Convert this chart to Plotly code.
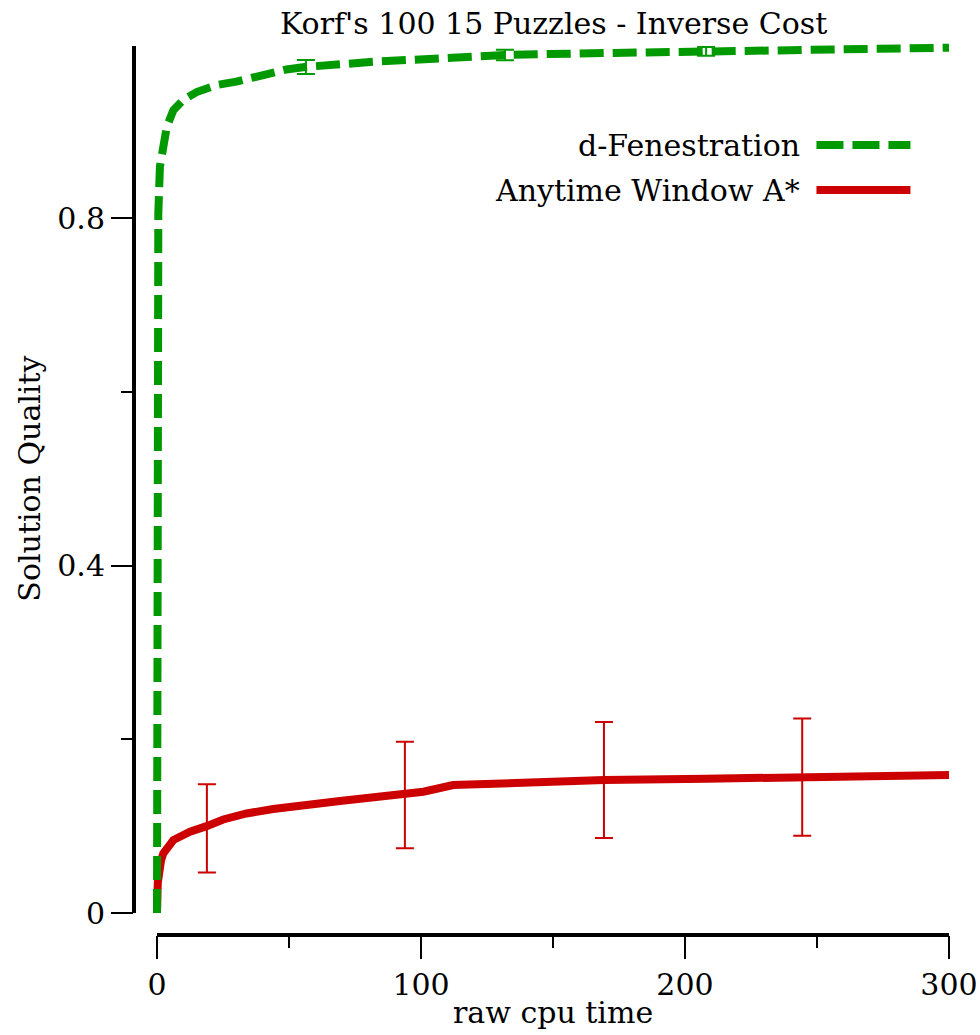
import plotly.graph_objects as go

# d-Fenestration: mean solution quality over raw cpu time
fen_time = [0, 0.2, 0.5, 1.1, 2.4, 3.7, 6.2, 10, 15, 22.6, 30, 40, 49, 56.7, 83,
            122, 135, 173, 208, 248.6, 300]
fen_quality = [0, 0.76, 0.805, 0.859, 0.882, 0.905, 0.924, 0.936, 0.945, 0.953,
               0.957, 0.964, 0.971, 0.974, 0.980, 0.986, 0.988, 0.990, 0.992,
               0.994, 0.996]
fen_err_time = [56.4, 131.8, 208]
fen_err_mid = [0.9738, 0.9876, 0.9917]
fen_err = [0.008, 0.006, 0.005]

# Anytime Window A*
awa_time = [0, 0.3, 1.5, 2.4, 6.2, 12.5, 18.8, 25.1, 33.9, 44, 69.3, 93.9, 100.9,
            112.2, 122.3, 169.3, 208, 244.4, 300]
awa_quality = [0, 0.035, 0.06, 0.0686, 0.084, 0.0936, 0.100, 0.1077, 0.1146,
               0.1197, 0.1289, 0.1377, 0.1396, 0.1473, 0.1485, 0.153, 0.1545,
               0.1565, 0.1589]
awa_err_time = [18.9, 93.9, 169.3, 244.4]
awa_err_mid = [0.0974, 0.1358, 0.1531, 0.1565]
awa_err = [0.0509, 0.0614, 0.0668, 0.0675]

x_ticks = [0, 100, 200, 300]
x_minor = [50, 150, 250]
y_ticks = [0, 0.4, 0.8]
y_tick_text = ["0", "0.4", "0.8"]
y_minor = [0.2, 0.6]

GREEN = "#009900"
RED = "#cc0000"
FONT = "DejaVu Serif"
FS = 30

fig = go.Figure()

# red series first so the green dashes sit on top
fig.add_trace(go.Scatter(x=awa_time, y=awa_quality, mode="lines",
                         line=dict(color=RED, width=8), showlegend=False))
fig.add_trace(go.Scatter(x=awa_err_time, y=awa_err_mid, mode="markers",
                         marker=dict(size=1, opacity=0),
                         error_y=dict(type="data", array=awa_err, color=RED,
                                      thickness=2, width=9),
                         showlegend=False))
fig.add_trace(go.Scatter(x=fen_time, y=fen_quality, mode="lines",
                         line=dict(color=GREEN, width=8, dash="24px,9px"),
                         showlegend=False))
fig.add_trace(go.Scatter(x=fen_err_time, y=fen_err_mid, mode="markers",
                         marker=dict(size=1, opacity=0),
                         error_y=dict(type="data", array=fen_err, color=GREEN,
                                      thickness=2, width=9),
                         showlegend=False))

# detached axis spines
fig.add_shape(type="line", xref="x", yref="paper", x0=0, x1=300, y0=0, y1=0,
              line=dict(color="black", width=4))
fig.add_shape(type="line", xref="paper", yref="y", x0=0, x1=0, y0=0, y1=0.998,
              line=dict(color="black", width=4))

# legend: text on the left, line sample on the right
fig.add_annotation(x=244.3, y=0.884, xref="x", yref="y", text="d-Fenestration",
                   showarrow=False, xanchor="right", yanchor="middle",
                   font=dict(family=FONT, size=FS, color="black"))
fig.add_annotation(x=244.3, y=0.8322, xref="x", yref="y", text="Anytime Window A*",
                   showarrow=False, xanchor="right", yanchor="middle",
                   font=dict(family=FONT, size=FS, color="black"))
fig.add_shape(type="line", xref="x", yref="y", x0=249.8, x1=285.4, y0=0.884, y1=0.884,
              line=dict(color=GREEN, width=8, dash="27px,9px"))
fig.add_shape(type="line", xref="x", yref="y", x0=249.8, x1=285.4, y0=0.8322, y1=0.8322,
              line=dict(color=RED, width=8))

# title and axis titles
fig.add_annotation(x=150, y=1.0, xref="x", yref="paper", yanchor="bottom",
                   text="Korf's 100 15 Puzzles - Inverse Cost", showarrow=False,
                   font=dict(family=FONT, size=FS, color="black"), yshift=-3)
fig.add_annotation(x=150, y=0, xref="x", yref="paper", yanchor="top",
                   text="raw cpu time", showarrow=False,
                   font=dict(family=FONT, size=FS, color="black"), yshift=-58)
fig.add_annotation(x=0, y=0.5, xref="paper", yref="y", xanchor="center",
                   text="Solution Quality", showarrow=False, textangle=-90,
                   font=dict(family=FONT, size=FS, color="black"), xshift=-104)

fig.update_xaxes(range=[-8.712, 304.17], showline=False, showgrid=False, zeroline=False,
                 automargin=False,
                 tickvals=x_ticks, ticks="outside", ticklen=23, tickwidth=2,
                 tickcolor="black",
                 minor=dict(tickvals=x_minor, ticks="outside", ticklen=12,
                            tickwidth=2, tickcolor="black"),
                 tickfont=dict(family=FONT, size=FS, color="black"))
fig.update_yaxes(range=[-0.02532, 1.00489], showline=False, showgrid=False,
                 zeroline=False, automargin=False,
                 tickvals=y_ticks, ticktext=y_tick_text,
                 ticks="outside", ticklen=22, tickwidth=2, tickcolor="black",
                 minor=dict(tickvals=y_minor, ticks="outside", ticklen=12,
                            tickwidth=2, tickcolor="black"),
                 tickfont=dict(family=FONT, size=FS, color="black"))

fig.update_layout(width=980, height=1035, plot_bgcolor="white", paper_bgcolor="white",
                  margin=dict(l=134, r=20, t=40, b=100), showlegend=False)

fig.write_html("out.html")
